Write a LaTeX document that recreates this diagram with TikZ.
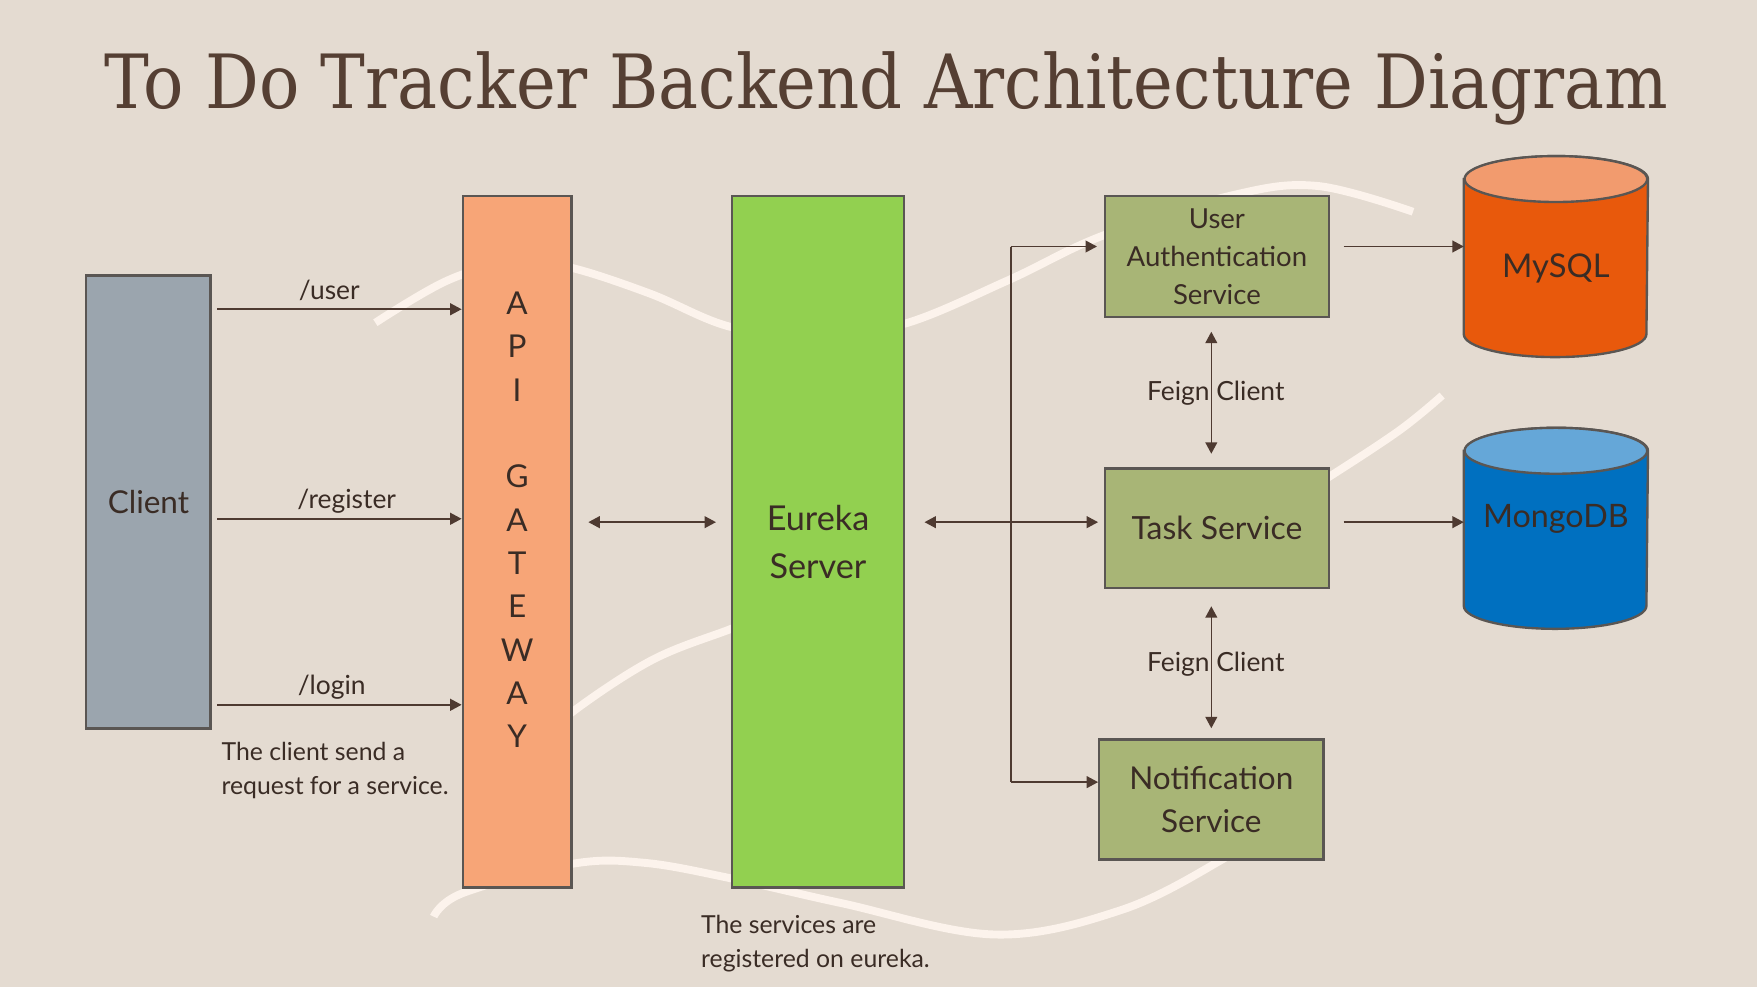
\documentclass[tikz,border=0pt]{standalone}
\usepackage{fontspec}
\setmainfont{Lato}
\newfontfamily\titlefont{DejaVu Serif}
\usepackage{graphicx}
\usetikzlibrary{arrows.meta, positioning, calc}

\definecolor{bg}{HTML}{E4DBD1}
\definecolor{ink}{HTML}{3A2C25}
\definecolor{titleink}{HTML}{553F33}
\definecolor{wire}{HTML}{4E3A31}
\definecolor{edge}{HTML}{5A5653}
\definecolor{swirl}{HTML}{FCF3EC}
\definecolor{clientfill}{HTML}{9BA5AE}
\definecolor{gatefill}{HTML}{F7A577}
\definecolor{eurekafill}{HTML}{92D050}
\definecolor{servicefill}{HTML}{A8B576}
\definecolor{mysqlbody}{HTML}{E8590C}
\definecolor{mysqltop}{HTML}{F29B6E}
\definecolor{mongobody}{HTML}{0070C0}
\definecolor{mongotop}{HTML}{65A7D8}

\begin{document}
\begin{tikzpicture}[
      box/.style={draw=edge, line width=0.6pt, inner sep=0pt, align=center, text=ink},
      link/.style={draw=wire, line width=0.4pt, -{Triangle[length=2.9pt, width=3pt]}},
      duplex/.style={link, {Triangle[length=2.9pt, width=3pt]}-{Triangle[length=2.9pt, width=3pt]}},
      note/.style={text=ink, font=\fontsize{6.7}{8.5}\selectfont, align=left, inner sep=0pt},
      remark/.style={note, font=\fontsize{6.3}{8.5}\selectfont, anchor=north west},
      wave/.style={draw=swirl, line width=2pt}
    ]
      % Background and frame
      \fill[bg] (0,0) rectangle (15.68,8.81);
      \useasboundingbox (0,0) rectangle (15.68,8.81);

      % Decorative waves
      \draw[wave] plot[smooth, tension=0.6] coordinates {(3.35,5.93) (4.00,6.31) (4.61,6.48) (5.10,6.42) (5.80,6.19) (6.53,5.89) (7.30,5.82) (8.07,5.92) (9.00,6.31) (9.85,6.71) (11.01,7.07) (11.76,7.15) (12.61,6.92)};
      \draw[wave] plot[smooth, tension=0.6] coordinates {(12.87,5.28) (12.49,4.97) (11.87,4.56) (11.60,4.40)};
      \draw[wave] plot[smooth, tension=0.6] coordinates {(6.90,3.35) (6.53,3.20) (5.82,2.92) (5.10,2.45) (4.80,2.15)};
      \draw[wave] plot[smooth, tension=0.6] coordinates {(3.87,0.63) (4.13,0.84) (5.10,1.10) (5.75,1.11) (6.53,0.97) (7.51,0.75) (8.88,0.47) (10.01,0.69) (10.89,1.13) (11.10,1.31)};

      % Title
      \node[anchor=base, text=titleink, font=\titlefont\fontsize{19}{22}\selectfont] (title) at (7.91,7.84) {\scalebox{0.897}[1]{To Do Tracker Backend Architecture Diagram}};

      % Boxes
      \node[box, fill=clientfill, minimum width=1.11cm, minimum height=4.04cm, font=\fontsize{8}{11}\selectfont] (client) at (1.325,4.33) {Client};
      \node[box, fill=gatefill, minimum width=0.97cm, minimum height=6.17cm] (gateway) at (4.615,3.975) {};
      \node[text=ink, align=center, inner sep=0pt, font=\fontsize{8}{11}\selectfont] (gwtext) at ([yshift=0.195cm]gateway.center) {A\\P\\I\\[11pt]G\\A\\T\\E\\W\\A\\Y};
      \node[box, fill=eurekafill, minimum width=1.54cm, minimum height=6.17cm, font=\fontsize{8.7}{12.2}\selectfont] (eureka) at (7.30,3.975) {Eureka\\Server};
      \node[box, fill=servicefill, minimum width=2.0cm, minimum height=1.08cm, font=\fontsize{7}{9.7}\selectfont] (auth) at (10.86,6.52) {User\\Authentication\\Service};
      \node[box, fill=servicefill, minimum width=2.0cm, minimum height=1.07cm, font=\fontsize{8.1}{11}\selectfont] (task) at (10.86,4.095) {Task Service};
      \node[box, fill=servicefill, minimum width=2.0cm, minimum height=1.07cm, font=\fontsize{8}{10.8}\selectfont] (notif) at (10.81,1.675) {Notification\\Service};

      % Databases
      \node[minimum width=1.63cm, minimum height=1.78cm, inner sep=0pt] (mysql) at (13.885,6.52) {};
      \node[minimum width=1.63cm, minimum height=1.78cm, inner sep=0pt] (mongo) at (13.885,4.095) {};
      \foreach \db/\body/\lid in {mysql/mysqlbody/mysqltop, mongo/mongobody/mongotop} {
        \draw[draw=edge, line width=0.6pt, fill=\body] ($(\db.north west)+(0,-0.205)$) -- ($(\db.south west)+(0,0.205)$)
          arc[start angle=180, end angle=360, x radius=0.815, y radius=0.205] -- ($(\db.north east)+(0,-0.205)$)
          arc[start angle=0, end angle=180, x radius=0.815, y radius=0.205] -- cycle;
        \draw[draw=edge, line width=0.6pt, fill=\lid] ($(\db.north)+(0,-0.205)$) ellipse[x radius=0.815, y radius=0.205];
      }
      \node[text=ink, font=\fontsize{8.3}{10}\selectfont] (mysqltext) at ([yshift=-0.11cm]mysql.center) {MySQL};
      \node[text=ink, font=\fontsize{8.2}{10}\selectfont] (mongotext) at ([yshift=0.085cm]mongo.center) {MongoDB};

      % Client requests
      \foreach \y/\p/\lbl/\nm in {6.05/0.47/{/user}/user, 4.18/0.54/{/register}/register, 2.52/0.48/{/login}/login}
        \draw[link, shorten <=0.05cm] (client.east |- 0,\y) -- (gateway.west |- 0,\y)
          node[note, pos=\p, anchor=base, yshift=2.5pt] (\nm lbl) {\lbl};
      \node[remark] (clientnote) at (1.97,2.19) {The client send a\\request for a service.};

      % Registry links
      \draw[duplex, shorten <=0.14cm, shorten >=0.13cm] (gateway.east |- 0,4.15) -- (eureka.west |- 0,4.15);
      \draw[duplex, shorten <=0.17cm, shorten >=0.05cm] (eureka.east |- 0,4.15) -- (task.west |- 0,4.15);
      \coordinate (bustop) at (9.02,6.61);
      \coordinate (busbot) at (9.02,1.83);
      \draw[draw=wire, line width=0.4pt] (bustop) -- (busbot);
      \draw[link, shorten >=0.06cm] (bustop) -- (auth.west |- bustop);
      \draw[link] (busbot) -- (notif.west |- busbot);
      \node[remark] (eurekanote) at (6.25,0.645) {The services are\\registered on eureka.};

      % Storage
      \draw[link, shorten <=0.12cm] (auth.east |- 0,6.61) -- (mysql.west |- 0,6.61);
      \draw[link, shorten <=0.12cm] (task.east |- 0,4.15) -- (mongo.west |- 0,4.15);

      % Feign clients
      \draw[duplex, shorten <=0.12cm, shorten >=0.12cm] (notif.center |- auth.south) -- (notif.center |- task.north);
      \draw[duplex, shorten <=0.15cm, shorten >=0.09cm] (notif.center |- task.south) -- (notif.north);
      \node[note] (feignup) at (10.85,5.30) {Feign Client};
      \node[note] (feigndown) at (10.85,2.88) {Feign Client};
    \end{tikzpicture}
\end{document}
